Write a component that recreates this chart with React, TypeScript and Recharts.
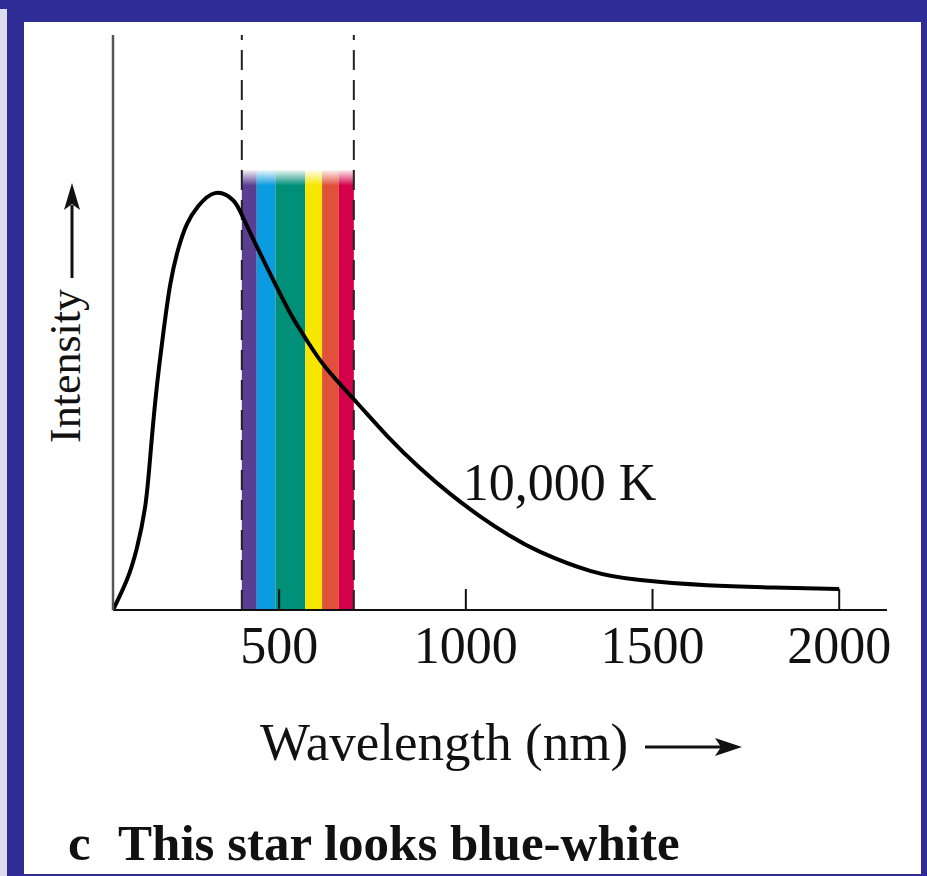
import { ComposedChart, Line, XAxis, YAxis, ReferenceArea, ReferenceLine, ReferenceDot, Label } from "recharts";

const SERIF = "'Liberation Serif', 'Times New Roman', serif";

// blackbody curve of a 10,000 K star
const wavelengthNm = [55, 92, 119, 141, 154, 170, 189, 208, 229, 253, 283, 328, 376, 403, 441, 484, 529, 575, 628, 709, 789, 877, 958, 1038, 1118, 1199, 1333, 1467, 1646, 1823, 2000];
const intensity = [0, 5.2, 10.8, 17.9, 26.1, 37.4, 47.8, 56.5, 62.6, 67.1, 70.2, 72.5, 71.3, 68.3, 63.1, 57.4, 51.7, 46.8, 41.9, 36.0, 30.3, 24.7, 20.2, 16.3, 12.9, 10.1, 6.8, 5.2, 4.3, 3.9, 3.65];

const xTicks = [500, 1000, 1500, 2000];
const visibleLimits = [400, 700];

// rainbow strip
const bandStart = [400, 440, 490, 570, 615, 660];
const bandEnd = [440, 490, 570, 615, 660, 700];
const bandColor = ["#5A3E91", "#0A9BE0", "#00907A", "#F7E600", "#E0503A", "#D5004A"];
const bandTop = 76.5;

const curveLabel = { text: "10,000 K", wl: 992, y: 19.1 };

const data = wavelengthNm.map((wl, i) => ({ wl, intensity: intensity[i] }));

function WaveTick(props: any) {
  const { x, y, payload } = props;
  return (
    <g>
      <line x1={x} x2={x} y1={y} y2={y - 21} stroke="#111" strokeWidth={2} />
      <text x={x} y={y + 53} textAnchor="middle" fontSize={52} fontFamily={SERIF} fill="#111">
        {payload.value}
      </text>
    </g>
  );
}

function XTitle(props: any) {
  const { x, y } = props.viewBox;
  const ax = x + 532;
  const ay = y + 137;
  return (
    <g>
      <text x={x + 147} y={y + 150} fontSize={53} fontFamily={SERIF} fill="#111">
        Wavelength (nm)
      </text>
      <line x1={ax} x2={ax + 85} y1={ay} y2={ay} stroke="#111" strokeWidth={3} />
      <path d={`M${ax + 97},${ay} L${ax + 70},${ay - 9} L${ax + 76},${ay} L${ax + 70},${ay + 9} Z`} fill="#111" />
    </g>
  );
}

function CurveTag(props: any) {
  const { x, y } = props.viewBox;
  return (
    <text x={x} y={y} fontSize={52} fontFamily={SERIF} fill="#111">
      {curveLabel.text}
    </text>
  );
}

export default function App() {
  return (
    <div style={{ position: "absolute", left: 0, top: 0, width: 927, height: 876, background: "#2F2D95" }}>
      <div style={{ position: "absolute", left: 0, top: 9, width: 7, height: 867, background: "#dcdcec" }} />
      <div style={{ position: "absolute", left: 24, top: 22, width: 897, height: 852, background: "#fff" }} />
      <div style={{ position: "absolute", left: 0, top: 0 }}>
        <ComposedChart
          width={927}
          height={876}
          data={data}
          margin={{ top: 35, right: 40, left: 112, bottom: 206 }}
          style={{ fontFamily: SERIF }}
        >
          <defs>
            {bandColor.map((c, i) => (
              <linearGradient key={i} id={`band${i}`} x1="0" y1="0" x2="0" y2="1">
                <stop offset="0" stopColor={c} stopOpacity={0.08} />
                <stop offset="0.035" stopColor={c} stopOpacity={1} />
              </linearGradient>
            ))}
          </defs>
          <XAxis
            type="number"
            dataKey="wl"
            domain={[55, 2128]}
            ticks={xTicks}
            interval={0}
            allowDataOverflow
            tickSize={0}
            tickMargin={0}
            tickLine={false}
            tick={WaveTick}
            axisLine={{ stroke: "#111", strokeWidth: 2 }}
            height={60}
          >
            <Label content={XTitle} />
          </XAxis>
          <YAxis
            type="number"
            domain={[0, 100]}
            width={1}
            tick={false}
            tickLine={false}
            axisLine={{ stroke: "#555", strokeWidth: 2.5 }}
          />
          {bandStart.map((s, i) => (
            <ReferenceArea
              key={i}
              x1={s}
              x2={bandEnd[i]}
              y1={0}
              y2={bandTop}
              fill={`url(#band${i})`}
              fillOpacity={1}
              stroke="none"
              ifOverflow="visible"
            />
          ))}
          {visibleLimits.map((v) => (
            <ReferenceLine key={v} x={v} stroke="#222" strokeWidth={2} strokeDasharray="20 10" />
          ))}
          <Line
            type="natural"
            dataKey="intensity"
            stroke="#000"
            strokeWidth={4}
            dot={false}
            isAnimationActive={false}
          />
          <ReferenceDot x={curveLabel.wl} y={curveLabel.y} r={0} stroke="none" fill="none">
            <Label content={CurveTag} />
          </ReferenceDot>
          {/* y axis title with arrow */}
          <text x={80} y={443} transform="rotate(-90 80 443)" fontSize={44} fontFamily={SERIF} fill="#111">
            Intensity
          </text>
          <line x1={72} x2={72} y1={278} y2={205} stroke="#111" strokeWidth={3} />
          <path d="M72,183 L80,210 L72,204 L64,210 Z" fill="#111" />
          {/* caption */}
          <text x={68} y={860} fontSize={51} fontWeight="bold" fontFamily={SERIF} fill="#111">
            c
          </text>
          <text x={118} y={860} fontSize={51} fontWeight="bold" fontFamily={SERIF} fill="#111">
            This star looks blue-white
          </text>
        </ComposedChart>
      </div>
    </div>
  );
}
